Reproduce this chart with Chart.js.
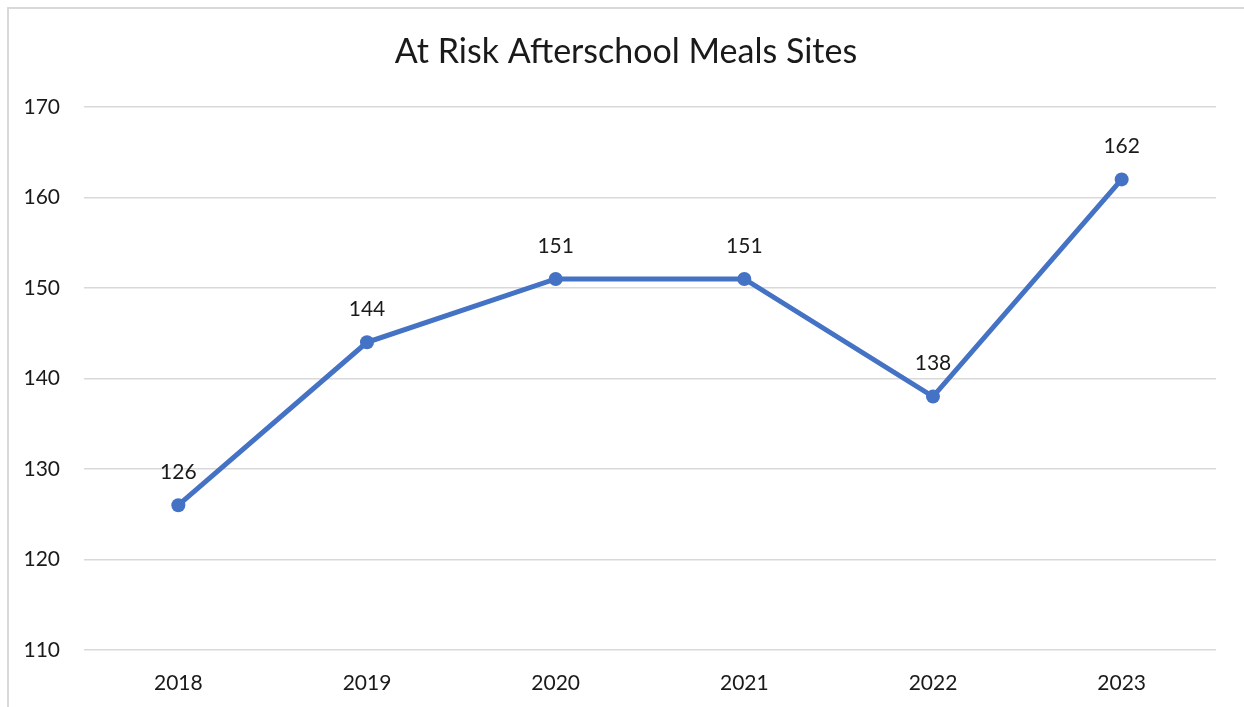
<!DOCTYPE html>
<html>
<head>
<meta charset="utf-8">
<script src="https://cdn.jsdelivr.net/npm/chart.js@4"></script>
<style>
  body { margin: 0; background: #fff; overflow: hidden; }
  #frame { position: absolute; left: 7px; top: 7px; width: 1260px; height: 720px; border: 2px solid #d9d9d9; }
  #wrap { position: absolute; left: 0; top: 0; width: 1244px; height: 707px; }
</style>
</head>
<body>
<div id="frame"></div>
<div id="wrap"><canvas id="chart"></canvas></div>
<script>
const years = ["2018", "2019", "2020", "2021", "2022", "2023"];
const sites = [126, 144, 151, 151, 138, 162];
const yTicks = [110, 120, 130, 140, 150, 160, 170];
const chartTitle = "At Risk Afterschool Meals Sites";

const FONT = "Lato, 'Open Sans', sans-serif";

// title centred on the whole frame, plus value labels above each point
const textLayer = {
    id: "textLayer",
    afterDatasetsDraw(chart) {
        const ctx = chart.ctx;
        const meta = chart.getDatasetMeta(0);
        ctx.save();
        ctx.fillStyle = "#1a1a1a";
        ctx.textAlign = "center";
        ctx.textBaseline = "middle";
        ctx.font = "34px " + FONT;
        ctx.fillText(chartTitle, 626, 52);
        ctx.font = "21px " + FONT;
        meta.data.forEach((pt, i) => {
            ctx.fillText(String(sites[i]), pt.x, pt.y - 33);
        });
        ctx.restore();
    }
};

new Chart(document.getElementById("chart"), {
    type: "line",
    data: {
        labels: years,
        datasets: [{
            data: sites,
            borderColor: "#4472C4",
            backgroundColor: "#4472C4",
            borderWidth: 5,
            pointRadius: 7,
            pointHoverRadius: 7,
            pointBackgroundColor: "#4472C4",
            pointBorderWidth: 0,
            tension: 0
        }]
    },
    options: {
        responsive: true,
        maintainAspectRatio: false,
        animation: false,
        layout: { padding: { left: 0, right: 28, top: 107, bottom: 0 } },
        plugins: {
            legend: { display: false },
            tooltip: { enabled: false },
            title: { display: false }
        },
        scales: {
            x: {
                offset: true,
                grid: { display: false },
                border: { display: false },
                ticks: { color: "#1a1a1a", font: { family: FONT, size: 21 }, padding: 13 },
                afterFit(scale) { scale.height = 57; }
            },
            y: {
                min: 110,
                max: 170,
                afterBuildTicks(scale) { scale.ticks = yTicks.map(v => ({ value: v })); },
                grid: { color: "#d9d9d9", lineWidth: 1.5, drawTicks: false },
                border: { display: false },
                ticks: { color: "#1a1a1a", font: { family: FONT, size: 21 }, padding: 24 },
                afterFit(scale) { scale.width = 84; }
            }
        }
    },
    plugins: [textLayer]
});
</script>
</body>
</html>
